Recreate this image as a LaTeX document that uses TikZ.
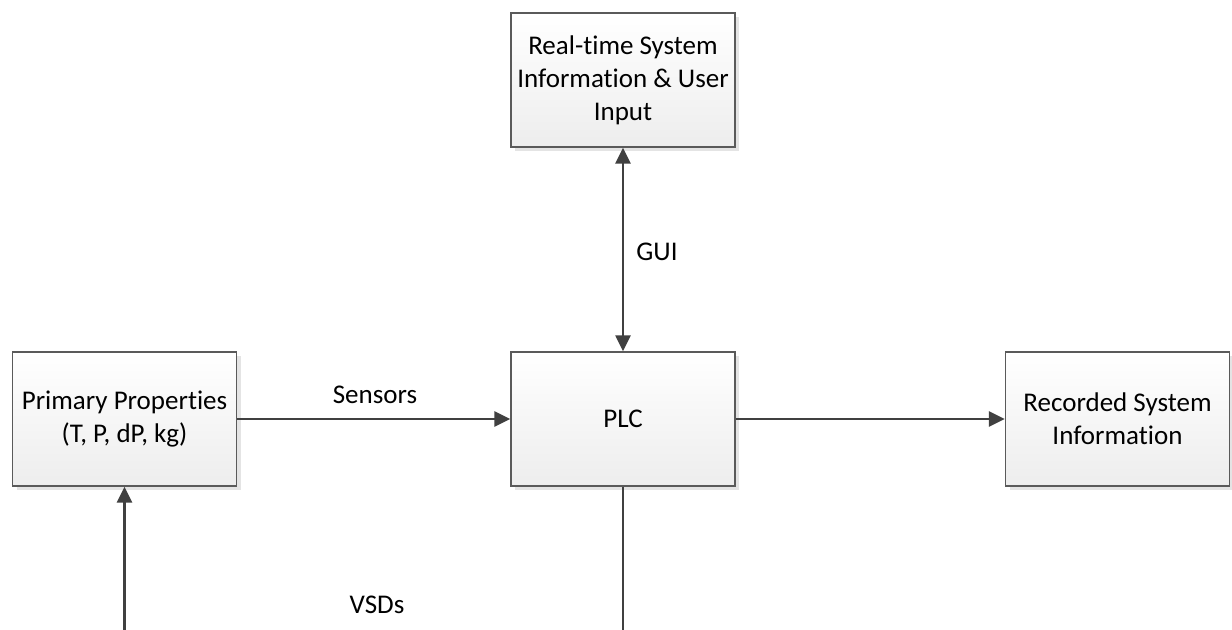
\documentclass[tikz,border=0pt]{standalone}
\usepackage{fontspec}
\setmainfont[Ligatures=NoCommon]{Carlito}
\usetikzlibrary{arrows.meta,shadows}
\definecolor{boxedge}{HTML}{5A5A5A}
\definecolor{wirecol}{HTML}{404040}
\definecolor{shadecol}{HTML}{E4E4E4}
\tikzset{
  >={Triangle[length=8pt,width=7.5pt]},
  block/.style={draw=boxedge, line width=0.7pt,
    top color=white, bottom color=black!7,
    minimum width=112pt, minimum height=67pt, inner sep=0pt,
    align=center, font=\fontsize{13.5pt}{16.5pt}\selectfont,
    drop shadow={shadow xshift=2pt, shadow yshift=-2pt, fill=shadecol, opacity=1}},
  wire/.style={draw=wirecol, line width=1.25pt},
  lbl/.style={font=\fontsize{13.5pt}{16.5pt}\selectfont, inner sep=0pt}
}
\begin{document}
\begin{tikzpicture}[x=0.5pt,y=-0.5pt]
  \useasboundingbox (0,0) rectangle (1232,630);
  \fill[white] (0,0) rectangle (1232,630);
  \clip (0,0) rectangle (1232,630);

  % blocks
  \node[block] (rt)  at (623,80)    {Real-time System\\Information \& User\\Input};
  \node[block] (plc) at (623,419)   {PLC};
  \node[block] (pp)  at (124.5,419) {Primary Properties\\(T, P, dP, kg)};
  \node[block] (rec) at (1117.5,419){Recorded System\\Information};

  % connectors
  \draw[wire,<->] (rt.south) -- (plc.north);
  \draw[wire,->] (pp.east) -- (plc.west);
  \draw[wire,->] (plc.east) -- (rec.west);
  \draw[wire,->] (plc.south) -- ++(0,200) -| (pp.south);

  % connector labels
  \node[lbl, anchor=west] (gui) at (636,252) {GUI};
  \node[lbl] (sens) at (375,395) {Sensors};
  \node[lbl] (vsd)  at (377,605) {VSDs};
\end{tikzpicture}
\end{document}
